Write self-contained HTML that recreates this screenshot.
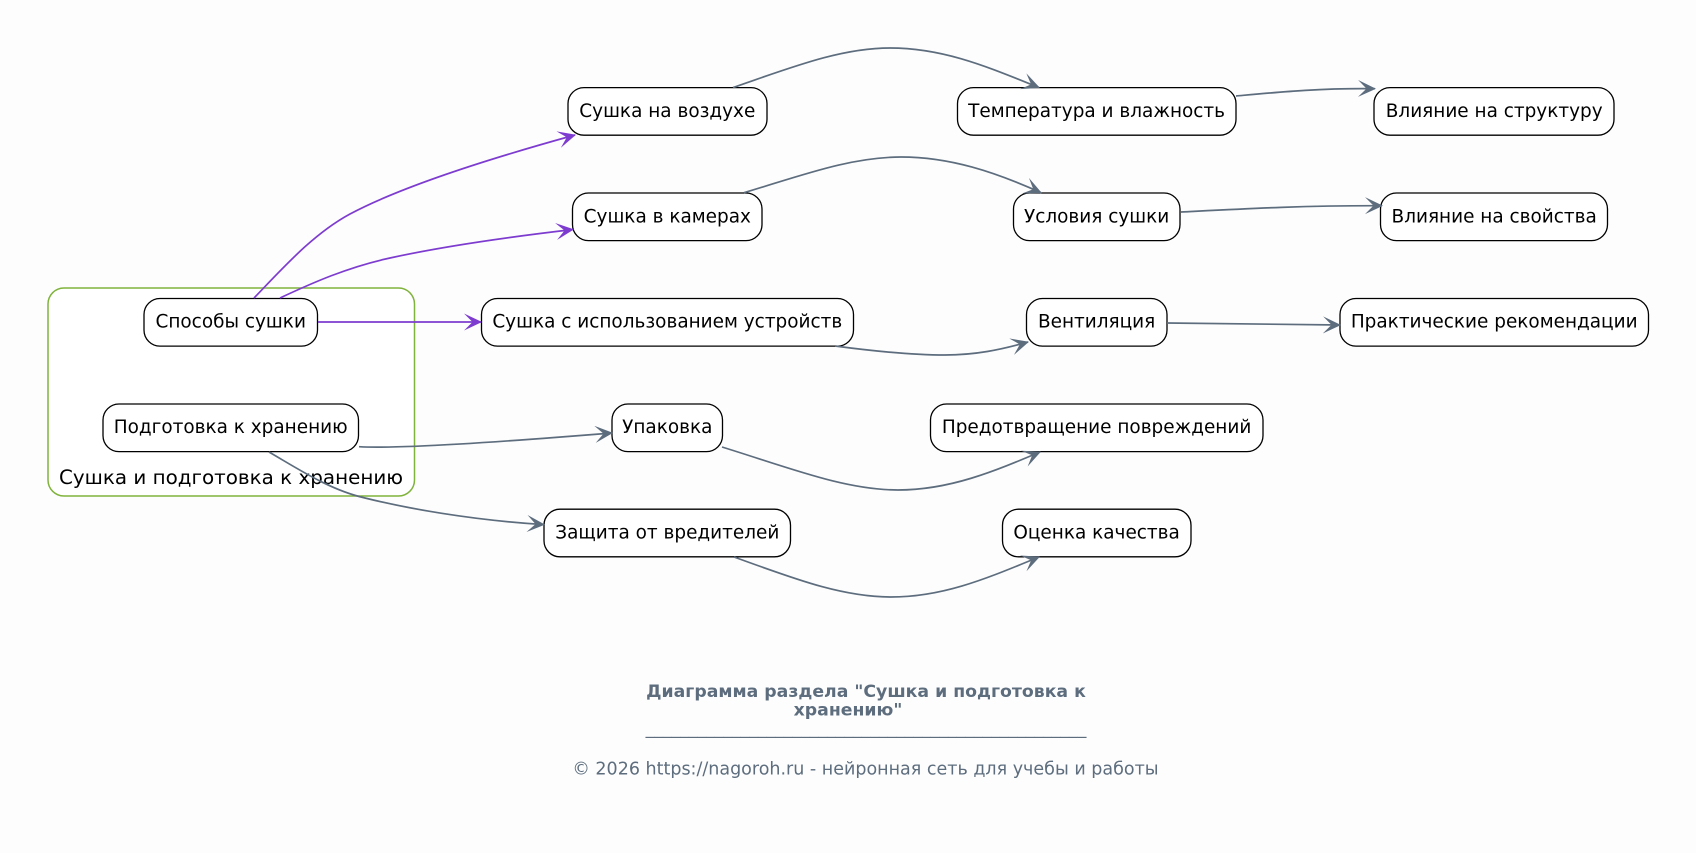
<!DOCTYPE html>
<html><head><meta charset="utf-8"><style>
html,body{margin:0;padding:0;background:#fdfdfd;width:1696px;height:853px;overflow:hidden}
svg{display:block}
text{font-family:"DejaVu Sans","Liberation Sans",sans-serif}
.n rect{fill:#fff;stroke:#000;stroke-width:1.3}
.n text{font-size:18.45px;fill:#000;text-anchor:middle}
.g{fill:none;stroke:#5d6d7e;stroke-width:1.7;marker-end:url(#ag)}
.p{fill:none;stroke:#7d3ccf;stroke-width:1.7;marker-end:url(#ap)}
.f{fill:#5d6d7e;text-anchor:middle}
</style></head><body>
<svg width="1696" height="853" viewBox="0 0 1696 853" xmlns="http://www.w3.org/2000/svg">
<defs>
<marker id="ag" markerUnits="userSpaceOnUse" markerWidth="20" markerHeight="18" refX="17" refY="8.5" orient="auto"><path d="M18,8.5 L0,0 L8.5,8.5 L0,17 Z" fill="#5d6d7e"/></marker>
<marker id="ap" markerUnits="userSpaceOnUse" markerWidth="20" markerHeight="18" refX="17" refY="8.5" orient="auto"><path d="M18,8.5 L0,0 L8.5,8.5 L0,17 Z" fill="#7d3ccf"/></marker>
</defs>
<rect x="48" y="288" width="366.5" height="208" rx="16" fill="#fff" stroke="#80b33c" stroke-width="1.5"/>
<text x="231" y="484" font-size="19.9px" text-anchor="middle" fill="#000">Сушка и подготовка к хранению</text>
<g class="n">
<rect x="568" y="87.6" width="199" height="47.6" rx="16"/><text x="667.3" y="117">Сушка на воздухе</text>
<rect x="957.5" y="87.6" width="278.5" height="47.6" rx="16"/><text x="1096.6" y="117">Температура и влажность</text>
<rect x="1374" y="87.6" width="240" height="47.6" rx="16"/><text x="1494.2" y="117">Влияние на структуру</text>
<rect x="572.5" y="193" width="189.5" height="47.6" rx="16"/><text x="667.3" y="222.3">Сушка в камерах</text>
<rect x="1013.5" y="193" width="166.5" height="47.6" rx="16"/><text x="1096.6" y="222.3">Условия сушки</text>
<rect x="1380.5" y="193" width="227" height="47.6" rx="16"/><text x="1494.2" y="222.3">Влияние на свойства</text>
<rect x="144" y="298.5" width="173.5" height="47.6" rx="16"/><text x="230.7" y="327.7">Способы сушки</text>
<rect x="481.5" y="298.5" width="372" height="47.6" rx="16"/><text x="667.3" y="327.7">Сушка с использованием устройств</text>
<rect x="1026.5" y="298.5" width="140.5" height="47.6" rx="16"/><text x="1096.6" y="327.7">Вентиляция</text>
<rect x="1340" y="298.5" width="308.5" height="47.6" rx="16"/><text x="1494.2" y="327.7">Практические рекомендации</text>
<rect x="103" y="404" width="255.5" height="47.6" rx="16"/><text x="230.7" y="433">Подготовка к хранению</text>
<rect x="612" y="404" width="110.5" height="47.6" rx="16"/><text x="667.3" y="433">Упаковка</text>
<rect x="930.5" y="404" width="332.5" height="47.6" rx="16"/><text x="1096.6" y="433">Предотвращение повреждений</text>
<rect x="544" y="509.2" width="246.5" height="47.6" rx="16"/><text x="667.3" y="538.3">Защита от вредителей</text>
<rect x="1002.5" y="509.2" width="188.5" height="47.6" rx="16"/><text x="1096.6" y="538.3">Оценка качества</text>
</g>
<path class="p" d="M254,298 C283,268 313,234 350,214 C395,190 470,164 575,135"/>
<path class="p" d="M280,298 C312,283 348,267 390,258 C440,247 500,238 573,229.5"/>
<path class="p" d="M318,322 L481,322"/>
<path class="g" d="M733,87.5 C790,68 840,48 890,48 C945,48 990,68 1039,87.5"/>
<path class="g" d="M744,192.7 C800,176 850,157 901,157 C950,157 995,172 1041,192.7"/>
<path class="g" d="M1236,96 C1280,92 1320,88 1375,88.7"/>
<path class="g" d="M1181,212 C1240,209 1300,205.5 1382,205.7"/>
<path class="g" d="M1167,323 C1220,323.5 1280,324.5 1340,325"/>
<path class="g" d="M835,346 C880,352 915,355 945,355 C975,355 1000,350 1028,342"/>
<path class="g" d="M359,446.7 C400,449 500,442 612,433"/>
<path class="g" d="M269,452 C300,470 330,490 365,498 C405,508 470,520 544,524.6"/>
<path class="g" d="M722,447 C790,468 845,490 898,490 C950,490 995,471 1040,452"/>
<path class="g" d="M734,557 C790,577 840,597 891,597 C945,597 990,577 1039,557"/>
<text class="f" x="866" y="697" font-size="17.3px" font-weight="bold">Диаграмма раздела "Сушка и подготовка к</text>
<text class="f" x="848" y="715.5" font-size="17.3px" font-weight="bold">хранению"</text>
<text class="f" x="866" y="734" font-size="17.3px">___________________________________________________</text>
<text class="f" x="865.5" y="774.5" font-size="17.5px">© 2026 https://nagoroh.ru - нейронная сеть для учебы и работы</text>
</svg>
</body></html>
